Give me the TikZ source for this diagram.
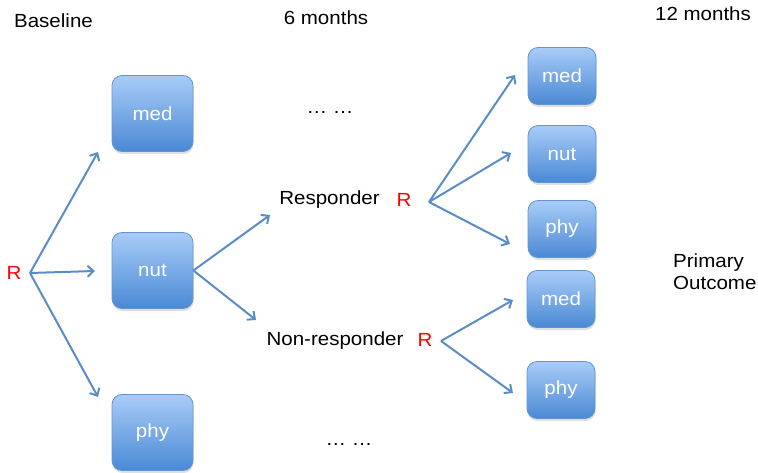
\documentclass[tikz,border=0pt]{standalone}
\usepackage{fontspec}
\setmainfont{Liberation Sans}[FakeStretch=1.08]
\usetikzlibrary{arrows.meta,shadows}
\definecolor{boxtop}{HTML}{A9CCF7}
\definecolor{boxbot}{HTML}{4A89D5}
\definecolor{boxline}{HTML}{6396D1}
\definecolor{arrowc}{HTML}{5A8DC6}
\definecolor{rred}{HTML}{FF0000}
\tikzset{
  armbox/.style={draw=boxline, line width=0.8pt, rounded corners=10pt,
    top color=boxtop, bottom color=boxbot, text=white,
    font=\fontsize{19}{22}\selectfont, inner sep=0pt,
    drop shadow={opacity=0.25, shadow xshift=0.6pt, shadow yshift=-2.5pt}},
  bigbox/.style={armbox, minimum width=81pt, minimum height=76pt},
  smallbox/.style={armbox, minimum width=68pt, minimum height=57pt},
  lbl/.style={font=\fontsize{19}{22}\selectfont, inner sep=0pt},
  rand/.style={lbl, text=rred},
  arm/.style={draw=arrowc, line width=2pt,
    -{Straight Barb[length=6pt,width=11pt,line width=2pt]}},
}
\begin{document}
\begin{tikzpicture}[x=1pt,y=-1pt]
\useasboundingbox (0,0) rectangle (758,473);

% time points
\node[lbl, anchor=base] (tbase) at (53.5,27.5) {Baseline};
\node[lbl, anchor=base] (tsix) at (326,25) {6 months};
\node[lbl, anchor=base] (ttwelve) at (703,21) {12 months};
\node[lbl, anchor=north west, align=left] (prim) at (673,254) {Primary\\Outcome};

% first randomisation
\node[rand] (r0) at (14,273) {R};
\coordinate (o0) at (30,273);
\node[bigbox] (lmed) at (152.5,113.5) {med};
\node[bigbox] (lnut) at (152.5,270.5) {nut};
\node[bigbox] (lphy) at (152.5,432.5) {phy};
\coordinate (e1) at (98,152);
\coordinate (e2) at (95,271);
\coordinate (e3) at (98,397);
\draw[arm] (o0) -- (e1);
\draw[arm] (o0) -- (e2);
\draw[arm] (o0) -- (e3);

% response status at 6 months
\node[lbl] (resp) at (329.5,200) {Responder};
\node[lbl] (nonresp) at (335,341) {Non-responder};
\coordinate (e4) at (270,215);
\coordinate (e5) at (256,320);
\draw[arm] (lnut.east) -- (e4);
\draw[arm] (lnut.east) -- (e5);

\node[lbl, anchor=base] (dots1) at (330,114) {\ldots\ \ldots};
\node[lbl, anchor=base] (dots2) at (349,445) {\ldots\ \ldots};

% second randomisation: responders
\node[rand] (r1) at (404,200) {R};
\coordinate (o1) at (429,202);
\node[smallbox] (rmed1) at (562,76) {med};
\node[smallbox] (rnut) at (562,154) {nut};
\node[smallbox] (rphy1) at (562,229) {phy};
\coordinate (e6) at (515,75);
\coordinate (e7) at (511,153);
\coordinate (e8) at (510,244);
\draw[arm] (o1) -- (e6);
\draw[arm] (o1) -- (e7);
\draw[arm] (o1) -- (e8);

% second randomisation: non-responders
\node[rand] (r2) at (425,340) {R};
\coordinate (o2) at (441,341);
\node[smallbox] (rmed2) at (561,299) {med};
\node[smallbox] (rphy2) at (561,390) {phy};
\coordinate (e9) at (513,300);
\coordinate (e10) at (513,393);
\draw[arm] (o2) -- (e9);
\draw[arm] (o2) -- (e10);
\end{tikzpicture}
\end{document}
